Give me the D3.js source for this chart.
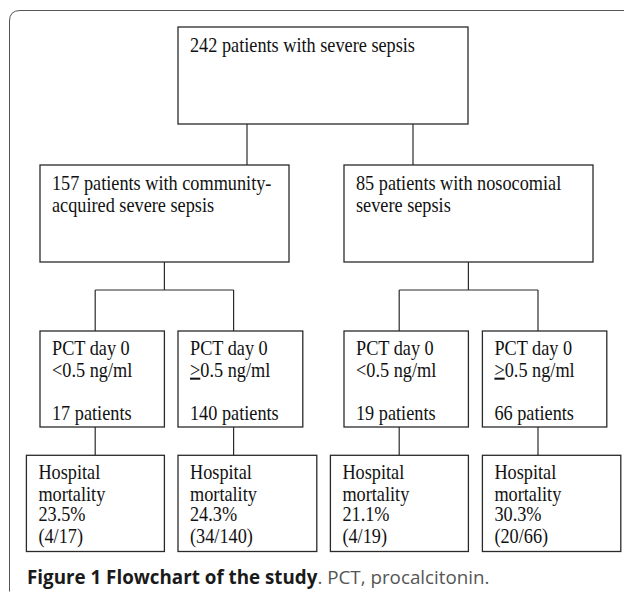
<!DOCTYPE html>
<html>
<head>
<meta charset="utf-8">
<script src="https://cdn.jsdelivr.net/npm/d3@7"></script>
<style>
  html, body { margin: 0; padding: 0; background: #fff; }
  svg { display: block; }
</style>
</head>
<body>
<svg id="chart" width="627" height="594"></svg>
<script>
// ---- Data ----
const totalLabel = ["242 patients with severe sepsis"];
const groupLabels = [
  ["157 patients with community-", "acquired severe sepsis"],
  ["85 patients with nosocomial", "severe sepsis"]
];
const pctThresholds = ["<0.5 ng/ml", "≥0.5 ng/ml", "<0.5 ng/ml", "≥0.5 ng/ml"];
const pctPatients = [17, 140, 19, 66];
const mortalityPct = ["23.5%", "24.3%", "21.1%", "30.3%"];
const mortalityFrac = ["(4/17)", "(34/140)", "(4/19)", "(20/66)"];
const captionBold = "Figure 1 Flowchart of the study";
const captionRest = ". PCT, procalcitonin.";

// ---- Layout (positions only) ----
const svg = d3.select("#chart");
const FONT = "'Liberation Serif', 'Times New Roman', serif";
const FS = 20.4;      // vertical size
const SX = 0.895;     // horizontal condensation
const LH = 21.3;
const STROKE = "#2a2a2a";

// frame
svg.append("path")
  .attr("d", "M9.5,591.5 L9.5,21 Q9.5,10.5 20,10.5 L624,10.5")
  .attr("fill", "none").attr("stroke", "#555").attr("stroke-width", 1);

const boxes = [];
// level 1
boxes.push({x0: 178, x1: 468, y0: 27, y1: 124, tx: 190, base: 51.8,
  lines: totalLabel.map(t => ({t, dy: 0}))});
// level 2
const l2 = [[40, 289], [344, 593]];
groupLabels.forEach((g, i) => {
  boxes.push({x0: l2[i][0], x1: l2[i][1], y0: 165, y1: 262, tx: l2[i][0] + 12, base: 190.4,
    lines: g.map((t, k) => ({t, dy: k * LH}))});
});
// level 3
const l3 = [[40, 164.4], [178, 302.8], [344, 468.4], [482.4, 606.8]];
pctPatients.forEach((n, i) => {
  boxes.push({x0: l3[i][0], x1: l3[i][1], y0: 331, y1: 427, tx: l3[i][0] + 12, base: 355.3,
    lines: [{t: "PCT day 0", dy: 0}, {t: pctThresholds[i], dy: LH}, {t: n + " patients", dy: 64.5}]});
});
// level 4
const l4 = [[26.4, 164.4], [178, 316.8], [330.4, 468.4], [482.4, 620.8]];
mortalityPct.forEach((p, i) => {
  boxes.push({x0: l4[i][0], x1: l4[i][1], y0: 455.3, y1: 551.5, tx: l4[i][0] + 12, base: 479.3,
    lines: [{t: "Hospital", dy: 0}, {t: "mortality", dy: LH}, {t: p, dy: 2 * LH - 0.5}, {t: mortalityFrac[i], dy: 3 * LH - 0.5}]});
});

// connectors
const conn = [
  [247, 124, 247, 165], [413, 124, 413, 165],
  [164.4, 262, 164.4, 290], [468.4, 262, 468.4, 290],
  [95.2, 290, 233.6, 290], [399.2, 290, 538, 290],
  [95.2, 290, 95.2, 331], [233.6, 290, 233.6, 331], [399.2, 290, 399.2, 331], [538, 290, 538, 331],
  [95.2, 427, 95.2, 455.3], [233.6, 427, 233.6, 455.3], [399.2, 427, 399.2, 455.3], [538, 427, 538, 455.3]
];
svg.append("g").selectAll("line").data(conn).join("line")
  .attr("x1", d => d[0]).attr("y1", d => d[1]).attr("x2", d => d[2]).attr("y2", d => d[3])
  .attr("stroke", STROKE).attr("stroke-width", 1.2);

const g = svg.append("g").selectAll("g").data(boxes).join("g");
g.append("rect")
  .attr("x", d => d.x0).attr("y", d => d.y0)
  .attr("width", d => d.x1 - d.x0).attr("height", d => d.y1 - d.y0)
  .attr("fill", "#fff").attr("stroke", STROKE).attr("stroke-width", 1.3);

g.each(function(d) {
  const sel = d3.select(this);
  d.lines.forEach(l => {
    const t = sel.append("text")
      .attr("transform", `translate(${d.tx},${d.base + l.dy}) scale(${SX},1)`)
      .attr("font-family", FONT).attr("font-size", FS).attr("fill", "#111");
    if (l.t.startsWith("≥")) {
      t.append("tspan").attr("text-decoration", "underline").text(">");
      t.append("tspan").text(l.t.slice(1));
    } else {
      t.text(l.t);
    }
  });
});

// caption
const cap = svg.append("text")
  .attr("x", 27).attr("y", 584)
  .attr("font-family", "'Open Sans', 'Noto Sans', sans-serif")
  .attr("font-size", 18.8);
cap.append("tspan").attr("font-weight", "bold").attr("fill", "#1a1a1a").text(captionBold);
cap.append("tspan").attr("fill", "#555").text(captionRest);
</script>
</body>
</html>
